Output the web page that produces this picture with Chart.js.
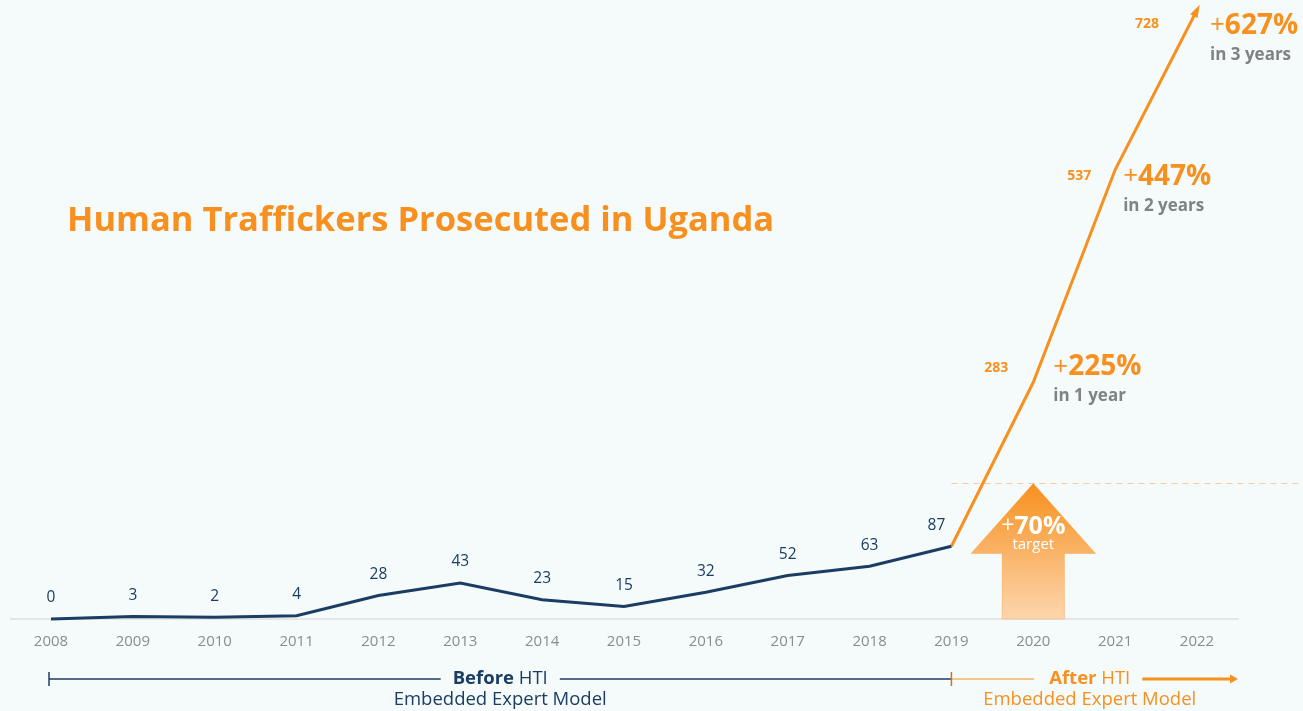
<!DOCTYPE html>
<html>
<head>
<meta charset="utf-8">
<script src="https://cdn.jsdelivr.net/npm/chart.js@4.4.1/dist/chart.umd.min.js"></script>
<style>
  html, body { margin: 0; padding: 0; background: #f5fbfb; }
  canvas { display: block; }
</style>
</head>
<body>
<canvas id="chart" width="1303" height="711"></canvas>
<script>
// Data
const years = ['2008', '2009', '2010', '2011', '2012', '2013', '2014', '2015', '2016', '2017', '2018', '2019', '2020', '2021', '2022'];
const beforeHTI = [0, 3, 2, 4, 28, 43, 23, 15, 32, 52, 63, 87, null, null, null];
const afterHTI = [null, null, null, null, null, null, null, null, null, null, null, 87, 283, 537, 728];
const targetValue = 162;   // dashed "+70% target" level
const targetYear = '2020';
const gainPct = ['225%', '447%', '627%'];
const gainText = ['in 1 year', 'in 2 years', 'in 3 years'];

const NAVY = '#1b3d63';
const ORANGE = '#f7901e';
const GREY = '#808285';
const FONT = '"Open Sans", "Noto Sans", sans-serif';

function font(size, weight) { return (weight || 'normal') + ' ' + size + 'px ' + FONT; }

const overlay = {
  id: 'overlay',
  beforeDatasetsDraw(chart) {
    const { ctx, chartArea: a, scales: { x, y } } = chart;
    ctx.save();
    // baseline
    ctx.strokeStyle = '#dcdfe0';
    ctx.lineWidth = 1.5;
    ctx.beginPath();
    ctx.moveTo(a.left - 41, y.getPixelForValue(0));
    ctx.lineTo(a.right + 42, y.getPixelForValue(0));
    ctx.stroke();

    // dashed target line
    const ty = y.getPixelForValue(targetValue);
    ctx.strokeStyle = '#f9c9a0';
    ctx.lineWidth = 1.2;
    ctx.setLineDash([6, 5]);
    ctx.beginPath();
    ctx.moveTo(x.getPixelForValue(11), ty);
    ctx.lineTo(chart.width, ty);
    ctx.stroke();
    ctx.setLineDash([]);

    // target arrow
    const cx = x.getPixelForValue(years.indexOf(targetYear));
    const by = y.getPixelForValue(0);
    const step = x.getPixelForValue(1) - x.getPixelForValue(0);
    const hw = step * 0.76, sw = step * 0.38, hy = ty + 70;
    const g = ctx.createLinearGradient(0, ty, 0, by);
    g.addColorStop(0, '#f7901e');
    g.addColorStop(1, '#fdd6ae');
    ctx.fillStyle = g;
    ctx.beginPath();
    ctx.moveTo(cx, ty);
    ctx.lineTo(cx + hw, hy);
    ctx.lineTo(cx + sw, hy);
    ctx.lineTo(cx + sw, by);
    ctx.lineTo(cx - sw, by);
    ctx.lineTo(cx - sw, hy);
    ctx.lineTo(cx - hw, hy);
    ctx.closePath();
    ctx.fill();
    ctx.strokeStyle = 'rgba(247,144,30,0.35)';
    ctx.lineWidth = 1;
    ctx.stroke();

    ctx.fillStyle = '#fff';
    ctx.textBaseline = 'middle';
    const plus = '+', pct = '70%';
    ctx.font = font(23, 'normal');
    const pw = ctx.measureText(plus).width;
    ctx.font = font(25, 'bold');
    const qw = ctx.measureText(pct).width;
    ctx.textAlign = 'left';
    ctx.font = font(23, 'normal');
    ctx.fillText(plus, cx - (pw + qw) / 2, ty + 43);
    ctx.font = font(25, 'bold');
    ctx.fillText(pct, cx - (pw + qw) / 2 + pw, ty + 43);
    ctx.textAlign = 'center';
    ctx.font = font(15, 'normal');
    ctx.fillText('target', cx, ty + 61);
    ctx.restore();
  },
  afterDatasetsDraw(chart) {
    const { ctx, chartArea: a, scales: { x, y } } = chart;
    ctx.save();
    ctx.textBaseline = 'middle';

    // arrowhead on orange line
    const n = afterHTI.length - 1;
    const px = x.getPixelForValue(n), py = y.getPixelForValue(afterHTI[n]);
    const qx = x.getPixelForValue(n - 1), qy = y.getPixelForValue(afterHTI[n - 1]);
    const ang = Math.atan2(py - qy, px - qx);
    ctx.fillStyle = ORANGE;
    ctx.beginPath();
    ctx.moveTo(px + Math.cos(ang) * 6, py + Math.sin(ang) * 6);
    ctx.lineTo(px + Math.cos(ang + 2.6) * 8, py + Math.sin(ang + 2.6) * 8);
    ctx.lineTo(px + Math.cos(ang - 2.6) * 8, py + Math.sin(ang - 2.6) * 8);
    ctx.closePath();
    ctx.fill();

    // navy value labels
    ctx.fillStyle = NAVY;
    ctx.font = font(15.5);
    ctx.textAlign = 'center';
    beforeHTI.forEach((v, i) => {
      if (v === null) return;
      const dx = i === 11 ? -15 : 0;
      ctx.fillText(String(v), x.getPixelForValue(i) + dx, y.getPixelForValue(v) - 21);
    });

    // orange value labels + gain notes
    const lblOff = [[-37, -14], [-36, 6], [-50, 14]];
    const noteOff = [[20, -15], [8, 7], [13, 16]];
    let k = 0;
    afterHTI.forEach((v, i) => {
      if (v === null || i === 11) return;
      const vx = x.getPixelForValue(i), vy = y.getPixelForValue(v);
      ctx.fillStyle = ORANGE;
      ctx.font = font(14, 'bold');
      ctx.textAlign = 'center';
      ctx.fillText(String(v), vx + lblOff[k][0], vy + lblOff[k][1]);

      const nx = vx + noteOff[k][0], ny = vy + noteOff[k][1];
      ctx.textAlign = 'left';
      ctx.font = font(26, 'normal');
      ctx.fillText('+', nx, ny);
      const w = ctx.measureText('+').width;
      ctx.font = font(28, 'bold');
      ctx.fillText(gainPct[k], nx + w, ny);
      ctx.fillStyle = GREY;
      ctx.font = font(17, 'bold');
      ctx.fillText(gainText[k], nx, ny + 29);
      k++;
    });

    // title
    ctx.fillStyle = ORANGE;
    ctx.font = font(34.5, 'bold');
    ctx.textAlign = 'left';
    ctx.fillText('Human Traffickers Prosecuted in Uganda', 67, 221);

    // before / after timeline
    const ly = 679;
    const x0 = x.getPixelForValue(0) - 2, x1 = x.getPixelForValue(11);
    const xEnd = a.right + 41;
    ctx.lineWidth = 1.5;
    ctx.strokeStyle = NAVY;
    ctx.beginPath();
    ctx.moveTo(x0, ly - 7); ctx.lineTo(x0, ly + 7);
    ctx.stroke();

    const FS = 18.5;
    function label(bold, rest, cxm, color) {
      ctx.fillStyle = color;
      ctx.font = font(FS, 'bold');
      const bw = ctx.measureText(bold + ' ').width;
      ctx.font = font(FS);
      const rw = ctx.measureText(rest).width;
      const left = cxm - (bw + rw) / 2;
      ctx.textAlign = 'left';
      ctx.font = font(FS, 'bold');
      ctx.fillText(bold + ' ', left, ly);
      ctx.font = font(FS);
      ctx.fillText(rest, left + bw, ly);
      return [left, left + bw + rw];
    }
    const mb = (x0 + x1) / 2;
    const [bl, br] = label('Before', 'HTI', mb, NAVY);
    ctx.beginPath();
    ctx.moveTo(x0, ly); ctx.lineTo(bl - 12, ly);
    ctx.moveTo(br + 12, ly); ctx.lineTo(x1, ly);
    ctx.stroke();
    ctx.textAlign = 'center';
    ctx.font = font(FS);
    ctx.fillText('Embedded Expert Model', mb, ly + 21);

    const ma = (x1 + xEnd) / 2 - 5;
    const [al, ar] = label('After', 'HTI', ma, ORANGE);
    ctx.strokeStyle = ORANGE;
    ctx.lineWidth = 1.2;
    ctx.beginPath();
    ctx.moveTo(x1, ly); ctx.lineTo(al - 15, ly);
    ctx.stroke();
    ctx.lineWidth = 3;
    ctx.beginPath();
    ctx.moveTo(ar + 12, ly); ctx.lineTo(xEnd - 6, ly);
    ctx.stroke();
    ctx.fillStyle = ORANGE;
    ctx.beginPath();
    ctx.moveTo(xEnd, ly); ctx.lineTo(xEnd - 8, ly - 4.5); ctx.lineTo(xEnd - 8, ly + 4.5);
    ctx.closePath(); ctx.fill();
    ctx.strokeStyle = '#c9732a';
    ctx.lineWidth = 1.5;
    ctx.beginPath();
    ctx.moveTo(x1, ly - 7); ctx.lineTo(x1, ly + 7);
    ctx.stroke();
    ctx.textAlign = 'center';
    ctx.font = font(FS);
    ctx.fillText('Embedded Expert Model', ma, ly + 21);
    ctx.restore();
  }
};

new Chart(document.getElementById('chart'), {
  type: 'line',
  data: {
    labels: years,
    datasets: [
      { data: beforeHTI, borderColor: NAVY, borderWidth: 3, pointRadius: 0, tension: 0, clip: false },
      { data: afterHTI, borderColor: ORANGE, borderWidth: 3, pointRadius: 0, tension: 0, clip: false },
    ],
  },
  options: {
    responsive: false,
    animation: false,
    layout: { padding: { left: 51, right: 106, top: 0, bottom: 0 } },
    plugins: { legend: { display: false }, tooltip: { enabled: false } },
    scales: {
      x: {
        grid: { display: false, drawTicks: false },
        border: { display: false },
        ticks: { color: '#8a8c8e', font: { family: FONT, size: 15 }, padding: 14, maxRotation: 0, autoSkip: false },
        afterFit: s => { s.height = 92; },
      },
      y: { display: false, min: 0, max: 740 },
    },
  },
  plugins: [overlay],
});
</script>
</body>
</html>
